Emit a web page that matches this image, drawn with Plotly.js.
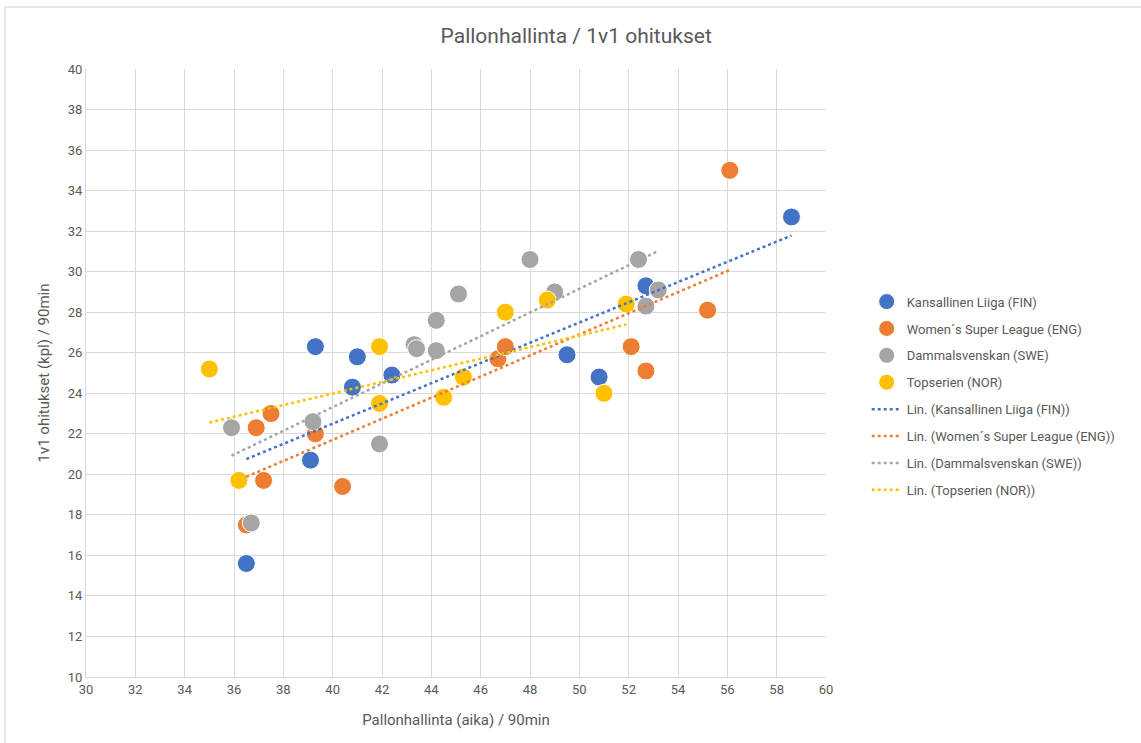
<!DOCTYPE html>
<html>
<head>
<meta charset="utf-8">
<script src="https://cdn.plot.ly/plotly-3.0.1.min.js"></script>
<style>html,body{margin:0;padding:0;background:#fff;}#chart{width:1141px;height:743px;}</style>
</head>
<body>
<div id="chart"></div>
<script>
// Data
const finNames = "Kansallinen Liiga (FIN)";
const finX = [36.5, 39.1, 39.3, 40.8, 41.0, 42.4, 49.5, 50.8, 52.7, 58.6];
const finY = [15.6, 20.7, 26.3, 24.3, 25.8, 24.9, 25.9, 24.8, 29.3, 32.7];

const engNames = "Women´s Super League (ENG)";
const engX = [36.5, 36.9, 37.2, 37.5, 39.3, 40.4, 46.7, 47.0, 52.1, 52.7, 55.2, 56.1];
const engY = [17.5, 22.3, 19.7, 23.0, 22.0, 19.4, 25.7, 26.3, 26.3, 25.1, 28.1, 35.0];

const sweNames = "Dammalsvenskan (SWE)";
const sweX = [35.9, 36.7, 39.2, 41.9, 43.3, 43.4, 44.2, 44.2, 45.1, 48.0, 49.0, 52.4, 52.7, 53.2];
const sweY = [22.3, 17.6, 22.6, 21.5, 26.4, 26.2, 27.6, 26.1, 28.9, 30.6, 29.0, 30.6, 28.3, 29.1];

const norNames = "Topserien (NOR)";
const norX = [35.0, 36.2, 41.9, 41.9, 44.5, 45.3, 47.0, 48.7, 51.0, 51.9];
const norY = [25.2, 19.7, 26.3, 23.5, 23.8, 24.8, 28.0, 28.6, 24.0, 28.4];

const xTicks = [30,32,34,36,38,40,42,44,46,48,50,52,54,56,58,60];
const yTicks = [10,12,14,16,18,20,22,24,26,28,30,32,34,36,38,40];

const series = [
  {name: finNames, x: finX, y: finY, color: "#4472C4"},
  {name: engNames, x: engX, y: engY, color: "#ED7D31"},
  {name: sweNames, x: sweX, y: sweY, color: "#A5A5A5"},
  {name: norNames, x: norX, y: norY, color: "#FFC000"}
];

function linFit(xs, ys) {
  const n = xs.length;
  const mx = xs.reduce((a,b)=>a+b,0)/n;
  const my = ys.reduce((a,b)=>a+b,0)/n;
  let sxy = 0, sxx = 0;
  for (let i=0;i<n;i++){ sxy += (xs[i]-mx)*(ys[i]-my); sxx += (xs[i]-mx)**2; }
  const b = sxy/sxx, a = my - b*mx;
  const x0 = Math.min(...xs), x1 = Math.max(...xs);
  return {x:[x0,x1], y:[a+b*x0, a+b*x1]};
}

const traces = [];
series.forEach((s,i) => {
  traces.push({
    type: "scatter", mode: "markers", name: s.name, x: s.x, y: s.y,
    legendgroup: "g"+i,
    marker: {color: s.color, size: 18, line: {color: "#ffffff", width: 1}}
  });
});
series.forEach((s,i) => {
  const f = linFit(s.x, s.y);
  traces.push({
    type: "scatter", mode: "lines", name: "Lin. (" + s.name + ")", x: f.x, y: f.y,
    legendgroup: "t"+i,
    line: {color: s.color, width: 2.5, dash: "dot"}
  });
});

const font = "Roboto, sans-serif";
const layout = {
  width: 1141, height: 743,
  paper_bgcolor: "#ffffff", plot_bgcolor: "#ffffff",
  margin: {l: 86, r: 315, t: 69, b: 66},
  font: {family: font, color: "#595959", size: 13},
  title: {text: "Pallonhallinta / 1v1 ohitukset", x: 0.505, xanchor: "center", y: 0.952, yanchor: "middle",
          font: {family: font, size: 21, color: "#595959"}},
  xaxis: {
    range: [30, 60], tickvals: xTicks, ticktext: xTicks.map(String),
    showgrid: true, gridcolor: "#d9d9d9", gridwidth: 1,
    zeroline: false, showline: true, linecolor: "#d9d9d9", ticks: "",
    tickfont: {size: 13, color: "#595959"},
    title: {text: "Pallonhallinta (aika) / 90min", font: {size: 15, color: "#595959"}, standoff: 18}
  },
  yaxis: {
    range: [10, 40], tickvals: yTicks, ticktext: yTicks.map(String),
    showgrid: true, gridcolor: "#d9d9d9", gridwidth: 1,
    zeroline: false, showline: true, linecolor: "#d9d9d9", ticks: "",
    tickfont: {size: 13, color: "#595959"},
    title: {text: "1v1 ohitukset (kpl) / 90min", font: {size: 15, color: "#595959"}, standoff: 14}
  },
  legend: {
    x: 1.055, xanchor: "left", y: 0.462, yanchor: "middle",
    font: {size: 13, color: "#595959"},
    tracegroupgap: 7, bgcolor: "rgba(0,0,0,0)"
  },
  showlegend: true,
  shapes: [
    {type: "line", xref: "paper", yref: "paper", x0: -0.1095, x1: 1.45, y0: 1.102, y1: 1.102, line: {color: "#d0d0d0", width: 1}},
    {type: "line", xref: "paper", yref: "paper", x0: -0.1095, x1: -0.1095, y0: -0.2, y1: 1.102, line: {color: "#d0d0d0", width: 1}}
  ]
};

Plotly.newPlot("chart", traces, layout, {displayModeBar: false, staticPlot: true});
</script>
</body>
</html>
